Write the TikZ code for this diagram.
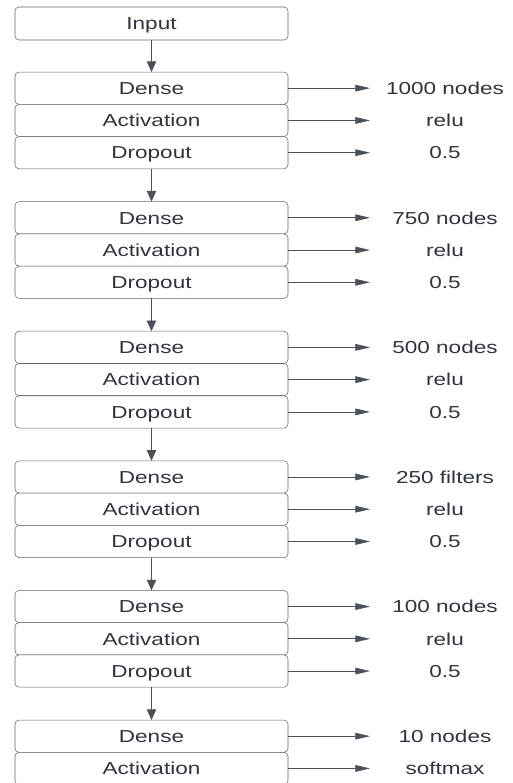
\documentclass[tikz,border=0pt]{standalone}
\usepackage{fontspec}
\setmainfont{Liberation Sans}[FakeStretch=1.3]
\usetikzlibrary{arrows.meta,positioning}
\definecolor{boxc}{HTML}{5F6670}
\definecolor{txtc}{HTML}{2F353E}
\definecolor{wirec}{HTML}{4A515B}
\tikzset{
  layer/.style={draw=boxc, rounded corners=3pt, fill=white, text=txtc, inner sep=0pt, outer sep=0pt,
    minimum width=204.75pt, minimum height=24.2pt, text height=9.4pt, text depth=0pt,
    font=\fontsize{13}{15}\selectfont},
  param/.style={text=txtc, inner sep=0pt, outer sep=0pt, minimum width=112.5pt,
    text height=9.4pt, text depth=0pt, font=\fontsize{13}{15}\selectfont},
  flow/.style={-{Triangle[length=8pt, width=7pt]}, draw=wirec, line width=0.6pt},
  side/.style={-{Triangle[length=11pt, width=5pt]}, draw=wirec, line width=0.5pt},
}

\begin{document}
\begin{tikzpicture}[x=0.75pt, y=-0.75pt]
  \path[use as bounding box, fill=white] (0,0) rectangle (513,783);
  \node[layer, minimum height=24.75pt] (in) at (151.5,23.5) {Input};
  % hidden blocks: dense / activation / dropout
  \foreach \g/\units in {1/1000 nodes,2/750 nodes,3/500 nodes,4/250 filters,5/100 nodes}{
    \node[layer] (d\g) at (151.5,{88.15+129.6*(\g-1)}) {Dense};
    \node[layer, below=0pt of d\g] (a\g) {Activation};
    \node[layer, below=0pt of a\g] (p\g) {Dropout};
    \node[param, right=61.5pt of d\g] (du\g) {\units};
    \node[param, right=61.5pt of a\g] (au\g) {relu};
    \node[param, right=61.5pt of p\g] (pu\g) {0.5};
    \draw[side] (d\g) -- (du\g);
    \draw[side] (a\g) -- (au\g);
    \draw[side] (p\g) -- (pu\g);
  }
  % output block
  \node[layer] (d6) at (151.5,736.15) {Dense};
  \node[layer, below=0pt of d6] (a6) {Activation};
  \node[param, right=61.5pt of d6] (du6) {10 nodes};
  \node[param, right=61.5pt of a6] (au6) {softmax};
  \draw[side] (d6) -- (du6);
  \draw[side] (a6) -- (au6);
  % flow between blocks
  \draw[flow] (in) -- (d1);
  \foreach \g/\n in {1/2,2/3,3/4,4/5,5/6}
    \draw[flow] (p\g) -- (d\n);
\end{tikzpicture}
\end{document}
